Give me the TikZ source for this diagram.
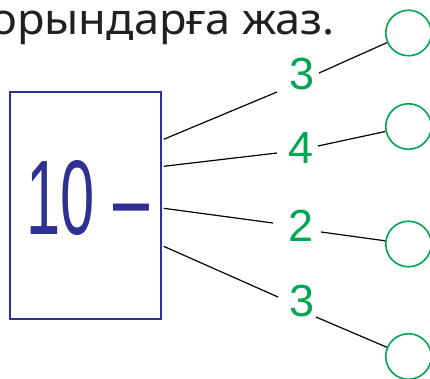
\documentclass[tikz,border=0pt]{standalone}
\usepackage{fontspec}
\setmainfont{Liberation Sans}
\newfontfamily\titlefont{Noto Sans}
\usepackage{tikz}
\usetikzlibrary{calc}
\definecolor{taskblue}{HTML}{2E3192}
\definecolor{taskgreen}{HTML}{00A651}
\definecolor{taskink}{HTML}{231F20}

\begin{document}
\begin{tikzpicture}[x=1pt,y=-1pt,
    numbox/.style={draw=taskblue,line width=1.4pt,minimum width=151pt,minimum height=227pt,inner sep=0pt},
    numtext/.style={text=taskgreen,font=\fontsize{45}{45}\selectfont,inner sep=0pt},
    slot/.style={circle,draw=taskgreen,line width=1.6pt,minimum size=45.5pt,inner sep=0pt},
    link/.style={draw=black,line width=1.2pt}]
    \useasboundingbox (0,0) rectangle (430,379);
    \clip (0,0) rectangle (430,379);
    \node[anchor=base east,text=taskink,font=\titlefont\fontsize{43}{43}\selectfont,inner sep=0pt] (title) at (335,35) {\scalebox{1.05}[1]{орындарға жаз.}};
    \node[numbox] (box) at (85.5,205.5) {};
    \node[anchor=base west,text=taskblue,font=\fontsize{106}{106}\selectfont,inner sep=0pt] (expr) at (26,234) {\scalebox{0.58}[1]{10}\hspace{19pt}\scalebox{0.61}[1]{–}};
    \foreach \i/\val/\bx/\by/\cy in {1/3/302/90/33,2/4/301/164/126.5,3/2/301/241/244,4/3/302/316/356.5}{
        \node[numtext,anchor=base] (n\i) at (\bx,\by) {\val};
        \node[slot] (c\i) at (408.5,\cy) {};
    }
    \foreach \i/\ys/\ax/\ay/\sx/\sy in {1/48/-25/2/17/-17,2/75/-24/-11/17/-18,3/117/-28/-18/20/-9,4/155/-24/-19/14/1}{
        \draw[link] ($(box.north east)+(2,\ys)$) -- ($(n\i.base)+(\ax,\ay)$);
        \draw[link] ($(n\i.base)+(\sx,\sy)$) -- (c\i);
    }
\end{tikzpicture}
\end{document}
